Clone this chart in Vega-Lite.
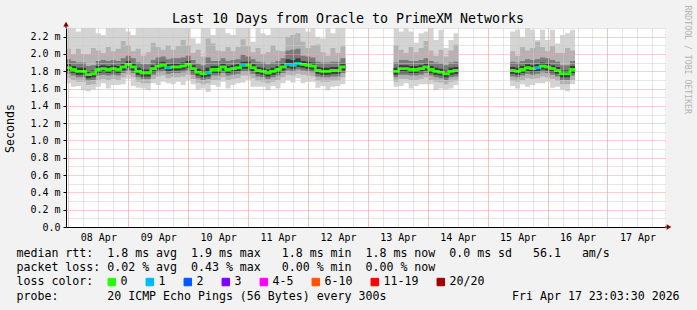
{
  "$schema": "https://vega.github.io/schema/vega-lite/v6.json",
  "width": 697,
  "height": 310,
  "autosize": {"type": "fit", "contains": "padding"},
  "padding": {"left": 4, "top": 5, "right": 6, "bottom": 8},
  "background": "#f2f2f2",
  "title": {"text": "Last 10 Days from Oracle to PrimeXM Networks", "font": "DejaVu Sans Mono", "fontSize": 13.3, "fontWeight": "normal", "color": "black", "anchor": "middle", "baseline": "alphabetic", "dx": -17.5, "offset": -31},
  "config": {"font": "DejaVu Sans Mono", "view": {"stroke": null, "fill": "white"}},
  "data": {
    "values": [
      {"t":"2026-04-07T23:00Z","s":1,"m":1.84,"l":"0","a0":1.66,"a1":1.72,"a2":1.77,"a3":1.80,"b3":1.88,"b2":1.94,"b1":2.06,"b0":2.3},
      {"t":"2026-04-08T01:00Z","s":1,"m":1.82,"l":"0","a0":1.62,"a1":1.70,"a2":1.75,"a3":1.78,"b3":1.86,"b2":1.92,"b1":2.00,"b0":2.3},
      {"t":"2026-04-08T03:00Z","s":1,"m":1.80,"l":"0","a0":1.63,"a1":1.68,"a2":1.73,"a3":1.76,"b3":1.84,"b2":1.90,"b1":2.06,"b0":2.26},
      {"t":"2026-04-08T05:00Z","s":1,"m":1.80,"l":"0","a0":1.58,"a1":1.68,"a2":1.73,"a3":1.76,"b3":1.84,"b2":1.90,"b1":2.00,"b0":2.3},
      {"t":"2026-04-08T07:00Z","s":1,"m":1.76,"l":"0","a0":1.57,"a1":1.64,"a2":1.69,"a3":1.72,"b3":1.80,"b2":1.86,"b1":2.00,"b0":2.3},
      {"t":"2026-04-08T09:00Z","s":1,"m":1.77,"l":"0","a0":1.59,"a1":1.65,"a2":1.70,"a3":1.73,"b3":1.81,"b2":1.87,"b1":2.07,"b0":2.3},
      {"t":"2026-04-08T11:00Z","s":1,"m":1.82,"l":"0","a0":1.62,"a1":1.70,"a2":1.75,"a3":1.78,"b3":1.86,"b2":1.92,"b1":2.04,"b0":2.24},
      {"t":"2026-04-08T13:00Z","s":1,"m":1.83,"l":"0","a0":1.66,"a1":1.71,"a2":1.76,"a3":1.79,"b3":1.87,"b2":1.93,"b1":2.01,"b0":2.22},
      {"t":"2026-04-08T15:00Z","s":1,"m":1.82,"l":"0","a0":1.60,"a1":1.70,"a2":1.75,"a3":1.78,"b3":1.86,"b2":1.92,"b1":2.08,"b0":2.3},
      {"t":"2026-04-08T17:00Z","s":1,"m":1.83,"l":"0","a0":1.64,"a1":1.71,"a2":1.76,"a3":1.79,"b3":1.87,"b2":1.93,"b1":2.03,"b0":2.3},
      {"t":"2026-04-08T19:00Z","s":1,"m":1.82,"l":"0","a0":1.64,"a1":1.70,"a2":1.75,"a3":1.78,"b3":1.86,"b2":1.92,"b1":2.06,"b0":2.3},
      {"t":"2026-04-08T21:00Z","s":1,"m":1.85,"l":"0","a0":1.65,"a1":1.73,"a2":1.78,"a3":1.81,"b3":1.89,"b2":1.95,"b1":2.15,"b0":2.3},
      {"t":"2026-04-08T23:00Z","s":1,"m":1.88,"l":"0","a0":1.71,"a1":1.76,"a2":1.81,"a3":1.84,"b3":1.92,"b2":1.98,"b1":2.10,"b0":2.26},
      {"t":"2026-04-09T01:00Z","s":1,"m":1.85,"l":"0","a0":1.63,"a1":1.73,"a2":1.78,"a3":1.81,"b3":1.89,"b2":1.95,"b1":2.03,"b0":2.22},
      {"t":"2026-04-09T03:00Z","s":1,"m":1.80,"l":"0","a0":1.61,"a1":1.68,"a2":1.73,"a3":1.76,"b3":1.84,"b2":1.90,"b1":2.06,"b0":2.3},
      {"t":"2026-04-09T05:00Z","s":1,"m":1.78,"l":"0","a0":1.60,"a1":1.66,"a2":1.71,"a3":1.74,"b3":1.82,"b2":1.88,"b1":1.98,"b0":2.3},
      {"t":"2026-04-09T07:00Z","s":1,"m":1.78,"l":"0","a0":1.58,"a1":1.66,"a2":1.71,"a3":1.74,"b3":1.82,"b2":1.88,"b1":2.02,"b0":2.3},
      {"t":"2026-04-09T09:00Z","s":1,"m":1.83,"l":"0","a0":1.66,"a1":1.71,"a2":1.76,"a3":1.79,"b3":1.87,"b2":1.93,"b1":2.13,"b0":2.3},
      {"t":"2026-04-09T11:00Z","s":1,"m":1.86,"l":"0","a0":1.64,"a1":1.74,"a2":1.79,"a3":1.82,"b3":1.90,"b2":1.96,"b1":2.08,"b0":2.3},
      {"t":"2026-04-09T13:00Z","s":1,"m":1.87,"l":"0","a0":1.68,"a1":1.75,"a2":1.80,"a3":1.83,"b3":1.91,"b2":1.97,"b1":2.05,"b0":2.3},
      {"t":"2026-04-09T15:00Z","s":1,"m":1.84,"l":"1","a0":1.66,"a1":1.72,"a2":1.77,"a3":1.80,"b3":1.88,"b2":1.94,"b1":2.10,"b0":2.3},
      {"t":"2026-04-09T17:00Z","s":1,"m":1.85,"l":"0","a0":1.65,"a1":1.73,"a2":1.78,"a3":1.81,"b3":1.89,"b2":1.95,"b1":2.05,"b0":2.3},
      {"t":"2026-04-09T19:00Z","s":1,"m":1.85,"l":"0","a0":1.68,"a1":1.73,"a2":1.78,"a3":1.81,"b3":1.89,"b2":1.95,"b1":2.09,"b0":2.3},
      {"t":"2026-04-09T21:00Z","s":1,"m":1.86,"l":"0","a0":1.64,"a1":1.74,"a2":1.79,"a3":1.82,"b3":1.90,"b2":1.96,"b1":2.16,"b0":2.3},
      {"t":"2026-04-09T23:00Z","s":1,"m":1.88,"l":"0","a0":1.69,"a1":1.76,"a2":1.81,"a3":1.84,"b3":1.92,"b2":1.98,"b1":2.10,"b0":2.3},
      {"t":"2026-04-10T01:00Z","s":1,"m":1.83,"l":"0","a0":1.65,"a1":1.71,"a2":1.76,"a3":1.79,"b3":1.87,"b2":1.93,"b1":2.01,"b0":2.18},
      {"t":"2026-04-10T03:00Z","s":1,"m":1.79,"l":"0","a0":1.59,"a1":1.67,"a2":1.72,"a3":1.75,"b3":1.83,"b2":1.89,"b1":2.05,"b0":2.12},
      {"t":"2026-04-10T05:00Z","s":1,"m":1.77,"l":"0","a0":1.60,"a1":1.65,"a2":1.70,"a3":1.73,"b3":1.81,"b2":1.87,"b1":1.97,"b0":2.3},
      {"t":"2026-04-10T07:00Z","s":1,"m":1.78,"l":"1","a0":1.56,"a1":1.66,"a2":1.71,"a3":1.74,"b3":1.84,"b2":1.96,"b1":2.18,"b0":2.3},
      {"t":"2026-04-10T09:00Z","s":1,"m":1.82,"l":"0","a0":1.64,"a1":1.70,"a2":1.75,"a3":1.78,"b3":1.86,"b2":1.92,"b1":2.12,"b0":2.22},
      {"t":"2026-04-10T11:00Z","s":1,"m":1.82,"l":"0","a0":1.62,"a1":1.70,"a2":1.75,"a3":1.78,"b3":1.86,"b2":1.92,"b1":2.04,"b0":2.3},
      {"t":"2026-04-10T13:00Z","s":1,"m":1.85,"l":"0","a0":1.68,"a1":1.73,"a2":1.78,"a3":1.81,"b3":1.89,"b2":1.95,"b1":2.03,"b0":2.3},
      {"t":"2026-04-10T15:00Z","s":1,"m":1.82,"l":"0","a0":1.60,"a1":1.70,"a2":1.75,"a3":1.78,"b3":1.86,"b2":1.92,"b1":2.08,"b0":2.24},
      {"t":"2026-04-10T17:00Z","s":1,"m":1.83,"l":"0","a0":1.64,"a1":1.71,"a2":1.76,"a3":1.79,"b3":1.87,"b2":1.93,"b1":2.03,"b0":2.22},
      {"t":"2026-04-10T19:00Z","s":1,"m":1.84,"l":"0","a0":1.66,"a1":1.72,"a2":1.77,"a3":1.80,"b3":1.88,"b2":1.94,"b1":2.08,"b0":2.3},
      {"t":"2026-04-10T21:00Z","s":1,"m":1.87,"l":"1","a0":1.67,"a1":1.75,"a2":1.80,"a3":1.83,"b3":1.91,"b2":1.99,"b1":2.17,"b0":2.3},
      {"t":"2026-04-10T23:00Z","s":1,"m":1.87,"l":"0","a0":1.70,"a1":1.75,"a2":1.80,"a3":1.83,"b3":1.91,"b2":1.97,"b1":2.09,"b0":2.3},
      {"t":"2026-04-11T01:00Z","s":1,"m":1.84,"l":"0","a0":1.62,"a1":1.72,"a2":1.77,"a3":1.80,"b3":1.88,"b2":1.94,"b1":2.02,"b0":2.14},
      {"t":"2026-04-11T03:00Z","s":1,"m":1.81,"l":"0","a0":1.62,"a1":1.69,"a2":1.74,"a3":1.77,"b3":1.85,"b2":1.91,"b1":2.07,"b0":2.3},
      {"t":"2026-04-11T05:00Z","s":1,"m":1.80,"l":"0","a0":1.62,"a1":1.68,"a2":1.73,"a3":1.76,"b3":1.84,"b2":1.90,"b1":2.00,"b0":2.24},
      {"t":"2026-04-11T07:00Z","s":1,"m":1.78,"l":"0","a0":1.58,"a1":1.66,"a2":1.71,"a3":1.74,"b3":1.82,"b2":1.88,"b1":2.02,"b0":2.22},
      {"t":"2026-04-11T09:00Z","s":1,"m":1.80,"l":"0","a0":1.63,"a1":1.68,"a2":1.73,"a3":1.76,"b3":1.84,"b2":1.90,"b1":2.10,"b0":2.3},
      {"t":"2026-04-11T11:00Z","s":1,"m":1.82,"l":"0","a0":1.60,"a1":1.70,"a2":1.75,"a3":1.78,"b3":1.86,"b2":1.92,"b1":2.04,"b0":2.3},
      {"t":"2026-04-11T13:00Z","s":1,"m":1.85,"l":"0","a0":1.66,"a1":1.73,"a2":1.78,"a3":1.81,"b3":1.89,"b2":1.95,"b1":2.03,"b0":2.3},
      {"t":"2026-04-11T15:00Z","s":1,"m":1.88,"l":"1","a0":1.70,"a1":1.76,"a2":1.81,"a3":1.84,"b3":1.94,"b2":2.04,"b1":2.20,"b0":2.3},
      {"t":"2026-04-11T17:00Z","s":1,"m":1.87,"l":"1","a0":1.67,"a1":1.75,"a2":1.80,"a3":1.83,"b3":1.93,"b2":2.05,"b1":2.22,"b0":2.3},
      {"t":"2026-04-11T19:00Z","s":1,"m":1.89,"l":"1","a0":1.72,"a1":1.77,"a2":1.82,"a3":1.85,"b3":1.95,"b2":2.06,"b1":2.24,"b0":2.3},
      {"t":"2026-04-11T21:00Z","s":1,"m":1.88,"l":"0","a0":1.66,"a1":1.76,"a2":1.81,"a3":1.84,"b3":1.92,"b2":1.98,"b1":2.14,"b0":2.3},
      {"t":"2026-04-11T23:00Z","s":1,"m":1.87,"l":"0","a0":1.68,"a1":1.75,"a2":1.80,"a3":1.83,"b3":1.91,"b2":1.97,"b1":2.07,"b0":2.26},
      {"t":"2026-04-12T01:00Z","s":1,"m":1.86,"l":"0","a0":1.68,"a1":1.74,"a2":1.79,"a3":1.82,"b3":1.90,"b2":1.96,"b1":2.10,"b0":2.3},
      {"t":"2026-04-12T03:00Z","s":1,"m":1.81,"l":"0","a0":1.61,"a1":1.69,"a2":1.74,"a3":1.77,"b3":1.85,"b2":1.91,"b1":2.11,"b0":2.2},
      {"t":"2026-04-12T05:00Z","s":1,"m":1.80,"l":"0","a0":1.63,"a1":1.68,"a2":1.73,"a3":1.76,"b3":1.84,"b2":1.90,"b1":2.02,"b0":2.18},
      {"t":"2026-04-12T07:00Z","s":1,"m":1.80,"l":"0","a0":1.58,"a1":1.68,"a2":1.73,"a3":1.76,"b3":1.84,"b2":1.90,"b1":1.98,"b0":2.3},
      {"t":"2026-04-12T09:00Z","s":1,"m":1.81,"l":"0","a0":1.62,"a1":1.69,"a2":1.74,"a3":1.77,"b3":1.85,"b2":1.91,"b1":2.07,"b0":2.24},
      {"t":"2026-04-12T11:00Z","s":1,"m":1.81,"l":"0","a0":1.63,"a1":1.69,"a2":1.74,"a3":1.77,"b3":1.85,"b2":1.91,"b1":2.01,"b0":2.3},
      {"t":"2026-04-12T13:00Z","s":1,"m":1.85,"l":"0","a0":1.65,"a1":1.73,"a2":1.78,"a3":1.81,"b3":1.89,"b2":1.95,"b1":2.09,"b0":2.3},
      {"t":"2026-04-12T15:00Z","s":1,"m":1.85,"l":"0","a0":1.65,"a1":1.73,"a2":1.78,"a3":1.81,"b3":1.89,"b2":1.95,"b1":2.09,"b0":2.3},
      {"t":"2026-04-13T10:20Z","s":2,"m":1.80,"l":"0","a0":1.62,"a1":1.68,"a2":1.73,"a3":1.76,"b3":1.84,"b2":1.90,"b1":2.10,"b0":2.3},
      {"t":"2026-04-13T12:20Z","s":2,"m":1.83,"l":"0","a0":1.63,"a1":1.71,"a2":1.76,"a3":1.79,"b3":1.87,"b2":1.93,"b1":2.05,"b0":2.26},
      {"t":"2026-04-13T14:20Z","s":2,"m":1.83,"l":"0","a0":1.66,"a1":1.71,"a2":1.76,"a3":1.79,"b3":1.87,"b2":1.93,"b1":2.01,"b0":2.3},
      {"t":"2026-04-13T16:20Z","s":2,"m":1.82,"l":"0","a0":1.60,"a1":1.70,"a2":1.75,"a3":1.78,"b3":1.86,"b2":1.92,"b1":2.08,"b0":2.26},
      {"t":"2026-04-13T18:20Z","s":2,"m":1.82,"l":"0","a0":1.63,"a1":1.70,"a2":1.75,"a3":1.78,"b3":1.86,"b2":1.92,"b1":2.02,"b0":2.13},
      {"t":"2026-04-13T20:20Z","s":2,"m":1.83,"l":"0","a0":1.65,"a1":1.71,"a2":1.76,"a3":1.79,"b3":1.87,"b2":1.93,"b1":2.07,"b0":2.24},
      {"t":"2026-04-13T22:20Z","s":2,"m":1.85,"l":"0","a0":1.65,"a1":1.73,"a2":1.78,"a3":1.81,"b3":1.89,"b2":1.95,"b1":2.15,"b0":2.26},
      {"t":"2026-04-14T00:20Z","s":2,"m":1.82,"l":"0","a0":1.65,"a1":1.70,"a2":1.75,"a3":1.78,"b3":1.86,"b2":1.92,"b1":2.04,"b0":2.3},
      {"t":"2026-04-14T02:20Z","s":2,"m":1.80,"l":"0","a0":1.58,"a1":1.68,"a2":1.73,"a3":1.76,"b3":1.84,"b2":1.90,"b1":1.98,"b0":2.16},
      {"t":"2026-04-14T04:20Z","s":2,"m":1.79,"l":"0","a0":1.60,"a1":1.67,"a2":1.72,"a3":1.75,"b3":1.83,"b2":1.89,"b1":2.05,"b0":2.28},
      {"t":"2026-04-14T06:20Z","s":2,"m":1.77,"l":"0","a0":1.59,"a1":1.65,"a2":1.70,"a3":1.73,"b3":1.81,"b2":1.87,"b1":1.97,"b0":2.07},
      {"t":"2026-04-14T08:20Z","s":2,"m":1.80,"l":"0","a0":1.60,"a1":1.68,"a2":1.73,"a3":1.76,"b3":1.84,"b2":1.90,"b1":2.04,"b0":2.16},
      {"t":"2026-04-14T10:20Z","s":2,"m":1.81,"l":"0","a0":1.64,"a1":1.69,"a2":1.74,"a3":1.77,"b3":1.85,"b2":1.91,"b1":2.11,"b0":2.24},
      {"t":"2026-04-14T12:20Z","s":2,"m":1.81,"l":"0","a0":1.64,"a1":1.69,"a2":1.74,"a3":1.77,"b3":1.85,"b2":1.91,"b1":2.11,"b0":2.24},
      {"t":"2026-04-15T09:00Z","s":3,"m":1.81,"l":"0","a0":1.63,"a1":1.69,"a2":1.74,"a3":1.77,"b3":1.85,"b2":1.91,"b1":2.03,"b0":2.26},
      {"t":"2026-04-15T11:00Z","s":3,"m":1.80,"l":"0","a0":1.60,"a1":1.68,"a2":1.73,"a3":1.76,"b3":1.84,"b2":1.90,"b1":1.98,"b0":2.28},
      {"t":"2026-04-15T13:00Z","s":3,"m":1.82,"l":"0","a0":1.65,"a1":1.70,"a2":1.75,"a3":1.78,"b3":1.86,"b2":1.92,"b1":2.08,"b0":2.2},
      {"t":"2026-04-15T15:00Z","s":3,"m":1.84,"l":"0","a0":1.62,"a1":1.72,"a2":1.77,"a3":1.80,"b3":1.88,"b2":1.94,"b1":2.04,"b0":2.3},
      {"t":"2026-04-15T17:00Z","s":3,"m":1.83,"l":"0","a0":1.64,"a1":1.71,"a2":1.76,"a3":1.79,"b3":1.87,"b2":1.93,"b1":2.07,"b0":2.28},
      {"t":"2026-04-15T19:00Z","s":3,"m":1.84,"l":"1","a0":1.66,"a1":1.72,"a2":1.77,"a3":1.80,"b3":1.88,"b2":1.94,"b1":2.14,"b0":2.16},
      {"t":"2026-04-15T21:00Z","s":3,"m":1.86,"l":"0","a0":1.66,"a1":1.74,"a2":1.79,"a3":1.82,"b3":1.90,"b2":1.96,"b1":2.08,"b0":2.28},
      {"t":"2026-04-15T23:00Z","s":3,"m":1.85,"l":"0","a0":1.68,"a1":1.73,"a2":1.78,"a3":1.81,"b3":1.89,"b2":1.95,"b1":2.03,"b0":2.16},
      {"t":"2026-04-16T01:00Z","s":3,"m":1.83,"l":"0","a0":1.61,"a1":1.71,"a2":1.76,"a3":1.79,"b3":1.87,"b2":1.93,"b1":2.09,"b0":2.28},
      {"t":"2026-04-16T03:00Z","s":3,"m":1.81,"l":"0","a0":1.62,"a1":1.69,"a2":1.74,"a3":1.77,"b3":1.85,"b2":1.91,"b1":2.01,"b0":2.12},
      {"t":"2026-04-16T05:00Z","s":3,"m":1.77,"l":"0","a0":1.59,"a1":1.65,"a2":1.70,"a3":1.73,"b3":1.81,"b2":1.87,"b1":2.01,"b0":2.22},
      {"t":"2026-04-16T07:00Z","s":3,"m":1.77,"l":"0","a0":1.57,"a1":1.65,"a2":1.70,"a3":1.73,"b3":1.81,"b2":1.87,"b1":2.07,"b0":2.24},
      {"t":"2026-04-16T09:00Z","s":3,"m":1.82,"l":"0","a0":1.65,"a1":1.70,"a2":1.75,"a3":1.78,"b3":1.86,"b2":1.92,"b1":2.04,"b0":2.28},
      {"t":"2026-04-16T11:00Z","s":3,"m":1.82,"l":"0","a0":1.65,"a1":1.70,"a2":1.75,"a3":1.78,"b3":1.86,"b2":1.92,"b1":2.04,"b0":2.28}
    ]
  },
  "layer": [
    {
      "mark": {"type": "area", "interpolate": "step-after", "color": "#d4d4d4", "clip": true},
      "encoding": {
        "x": {
          "field": "t", "type": "temporal",
          "scale": {"type": "utc", "nice": false, "domain": [1775603010000, 1776467010000]},
          "axis": {
            "orient": "bottom", "title": null, "labels": false, "ticks": false, "domain": false,
            "grid": true, "gridColor": "#cccccc", "gridDash": [1, 1], "gridWidth": 1, "zindex": 1,
            "values": [1775606400000, 1775628000000, 1775649600000, 1775671200000,
                       1775692800000, 1775714400000, 1775736000000, 1775757600000,
                       1775779200000, 1775800800000, 1775822400000, 1775844000000,
                       1775865600000, 1775887200000, 1775908800000, 1775930400000,
                       1775952000000, 1775973600000, 1775995200000, 1776016800000,
                       1776038400000, 1776060000000, 1776081600000, 1776103200000,
                       1776124800000, 1776146400000, 1776168000000, 1776189600000,
                       1776211200000, 1776232800000, 1776254400000, 1776276000000,
                       1776297600000, 1776319200000, 1776340800000, 1776362400000,
                       1776384000000, 1776405600000, 1776427200000, 1776448800000]
          }
        },
        "y": {
          "field": "a0", "type": "quantitative",
          "scale": {"domain": [0, 2.3], "nice": false, "zero": true},
          "axis": {
            "orient": "left", "title": null, "labels": false, "ticks": false, "domain": false,
            "grid": true, "gridColor": "#cccccc", "gridDash": [1, 1], "gridWidth": 1, "zindex": 1,
            "values": [0.1, 0.3, 0.5, 0.7, 0.9, 1.1, 1.3, 1.5, 1.7, 1.9, 2.1, 2.3]
          }
        },
        "y2": {"field": "b0"},
        "detail": {"field": "s", "type": "nominal"}
      }
    },
    {
      "mark": {"type": "area", "interpolate": "step-after", "color": "#b3b3b3", "clip": true},
      "encoding": {
        "x": {
          "field": "t", "type": "temporal",
          "axis": {
            "orient": "bottom",
            "values": [1775606400000, 1775692800000, 1775779200000, 1775865600000, 1775952000000,
                       1776038400000, 1776124800000, 1776211200000, 1776297600000, 1776384000000],
            "labelExpr": "utcFormat(datum.value, '%d %b')",
            "labelOffset": 30, "labelFont": "DejaVu Sans Mono", "labelFontSize": 10, "labelColor": "black", "labelPadding": 5,
            "labelFlush": false, "labelOverlap": false, "labelBound": false,
            "ticks": false, "domain": true, "domainColor": "black", "domainWidth": 1,
            "grid": true, "gridColor": "#f6a0a0", "gridDash": [1, 1], "gridWidth": 1, "zindex": 1,
            "title": [
              "median rtt:\u00a0\u00a01.8 ms avg\u00a0\u00a01.9 ms max\u00a0\u00a0\u00a01.8 ms min\u00a0\u00a01.8 ms now\u00a0\u00a00.0 ms sd\u00a0\u00a0\u00a056.1\u00a0\u00a0\u00a0am/s",
              "packet loss: 0.02 % avg\u00a0\u00a00.43 % max\u00a0\u00a0\u00a00.00 % min\u00a0\u00a00.00 % now",
              "loss color:",
              "probe:\u00a0\u00a0\u00a0\u00a0\u00a0\u00a0\u00a020 ICMP Echo Pings (56 Bytes) every 300s\u00a0\u00a0\u00a0\u00a0\u00a0\u00a0\u00a0\u00a0\u00a0\u00a0\u00a0\u00a0\u00a0\u00a0\u00a0\u00a0\u00a0\u00a0Fri Apr 17 23:03:30 2026"
            ],
            "titleFont": "DejaVu Sans Mono", "titleFontSize": 11.6, "titleFontWeight": "normal", "titleColor": "black",
            "titleAnchor": "start", "titleAlign": "left", "titleBaseline": "alphabetic",
            "titleX": -50, "titleY": 29.5, "titleLineHeight": 14.2
          }
        },
        "y": {
          "field": "a1", "type": "quantitative",
          "axis": {
            "orient": "left",
            "title": "Seconds", "titleFont": "DejaVu Sans Mono", "titleFontSize": 11.6, "titleFontWeight": "normal", "titleColor": "black",
            "titleX": -56, "titleY": 100, "titleAngle": -90, "titleAlign": "center", "titleBaseline": "middle",
            "values": [0, 0.2, 0.4, 0.6, 0.8, 1.0, 1.2, 1.4, 1.6, 1.8, 2.0, 2.2],
            "labelExpr": "datum.value == 0 ? '0.0' : format(datum.value, '.1f') + ' m'",
            "labelFont": "DejaVu Sans Mono", "labelFontSize": 10, "labelColor": "black", "labelPadding": 3,
            "labelFlush": false, "labelOverlap": false, "labelBound": false,
            "ticks": true, "tickSize": 3, "tickColor": "black", "domain": true, "domainColor": "black",
            "grid": true, "gridColor": "#f6a0a0", "gridDash": [1, 1], "gridWidth": 1, "zindex": 1
          }
        },
        "y2": {"field": "b1"},
        "detail": {"field": "s", "type": "nominal"}
      }
    },
    {
      "mark": {"type": "area", "interpolate": "step-after", "color": "#7a7a7a", "clip": true},
      "encoding": {
        "x": {"field": "t", "type": "temporal", "axis": null},
        "y": {"field": "a2", "type": "quantitative", "axis": null},
        "y2": {"field": "b2"},
        "detail": {"field": "s", "type": "nominal"}
      }
    },
    {
      "mark": {"type": "area", "interpolate": "step-after", "color": "#3a3a3a", "clip": true},
      "encoding": {
        "x": {"field": "t", "type": "temporal", "axis": null},
        "y": {"field": "a3", "type": "quantitative", "axis": null},
        "y2": {"field": "b3"},
        "detail": {"field": "s", "type": "nominal"}
      }
    },
    {
      "mark": {"type": "line", "interpolate": "step-after", "color": "#26ff00", "strokeWidth": 2.5, "clip": true},
      "encoding": {
        "x": {"field": "t", "type": "temporal", "axis": null},
        "y": {"field": "m", "type": "quantitative", "axis": null},
        "detail": {"field": "s", "type": "nominal"}
      }
    },
    {
      "transform": [
        {"window": [{"op": "lead", "field": "t", "as": "t2"}], "groupby": ["s"], "sort": [{"field": "t"}]},
        {"filter": "isValid(datum.t2)"}
      ],
      "mark": {"type": "rule", "strokeWidth": 2.5, "clip": true},
      "encoding": {
        "x": {"field": "t", "type": "temporal", "axis": null},
        "x2": {"field": "t2"},
        "y": {"field": "m", "type": "quantitative", "axis": {
          "orient": "right", "title": "RRDTOOL / TOBI OETIKER", "labels": false, "ticks": false, "domain": false, "grid": false,
          "titleFont": "DejaVu Sans Mono", "titleFontSize": 8.2, "titleFontWeight": "normal", "titleColor": "#b4b4b4",
          "titleAngle": 90, "titleX": 21, "titleY": -23, "titleAlign": "left", "titleBaseline": "middle"}},
        "color": {
          "field": "l", "type": "nominal",
          "scale": {"domain": ["0", "1", "2", "3", "4-5", "6-10", "11-19", "20/20"],
                    "range": ["#26ff00", "#00b8ff", "#0059ff", "#7e00ff", "#ff00ff", "#ff5500", "#ff0000", "#a10000"]},
          "legend": {
            "orient": "none", "legendX": 40, "legendY": 248, "direction": "horizontal", "title": null,
            "labelFont": "DejaVu Sans Mono", "labelFontSize": 11.6, "labelColor": "black", "labelOffset": 3,
            "columnPadding": 16, "symbolType": "square", "symbolSize": 56, "symbolStrokeWidth": 1, "padding": 0,
            "encode": {"symbols": {"update": {"fill": {"scale": "color", "field": "value"}, "stroke": {"value": "black"}, "strokeWidth": {"value": 1}, "opacity": {"value": 1}}}}
          }
        }
      }
    },
    {
      "data": {"values": [{}]},
      "mark": {"type": "rule", "color": "black", "strokeWidth": 1},
      "encoding": {
        "x": {"datum": 1775603010000, "type": "temporal", "axis": null},
        "y": {"datum": 2.3, "type": "quantitative", "axis": null},
        "y2": {"datum": 2.34}
      }
    },
    {
      "data": {"values": [{}]},
      "mark": {"type": "point", "shape": "triangle-up", "filled": true, "color": "#800000", "size": 30, "opacity": 1},
      "encoding": {
        "x": {"datum": 1775603010000, "type": "temporal", "axis": null},
        "y": {"datum": 2.345, "type": "quantitative", "axis": null}
      }
    },
    {
      "data": {"values": [{}]},
      "mark": {"type": "rule", "color": "black", "strokeWidth": 1},
      "encoding": {
        "x": {"datum": 1776467010000, "type": "temporal", "axis": null},
        "x2": {"datum": 1776472200000},
        "y": {"datum": 0, "type": "quantitative", "axis": null}
      }
    },
    {
      "data": {"values": [{}]},
      "mark": {"type": "point", "shape": "triangle-right", "filled": true, "color": "#800000", "size": 30, "opacity": 1},
      "encoding": {
        "x": {"datum": 1776472800000, "type": "temporal", "axis": null},
        "y": {"datum": 0, "type": "quantitative", "axis": null}
      }
    }
  ],
  "resolve": {"axis": {"x": "independent", "y": "independent"}}
}
